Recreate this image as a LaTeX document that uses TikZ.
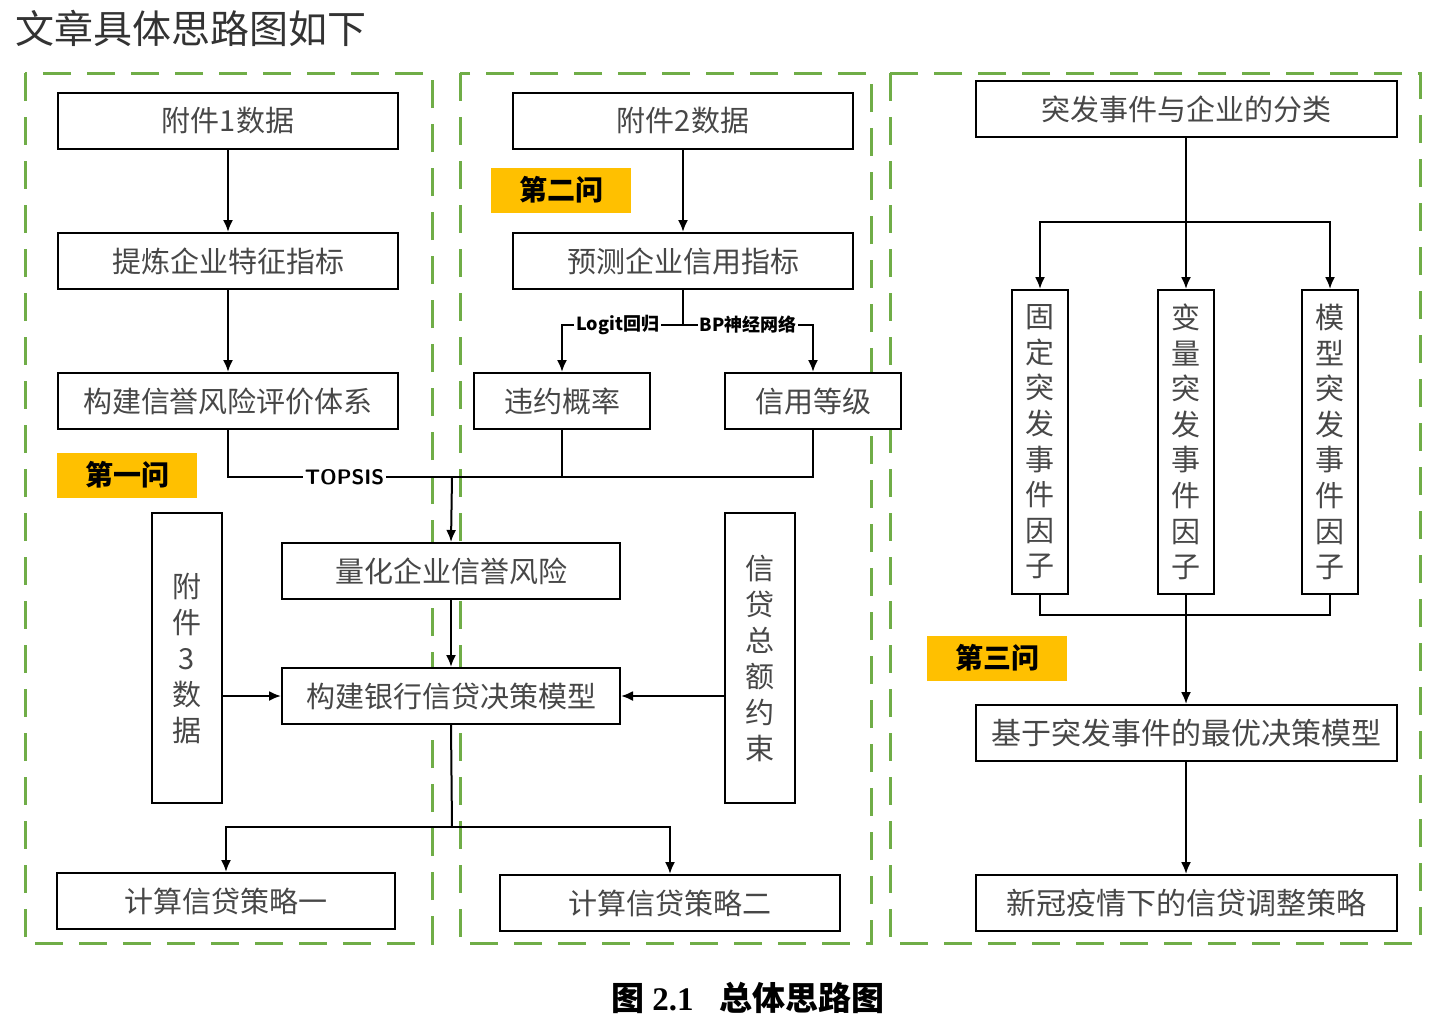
\documentclass[tikz,border=0pt]{standalone}
\usepackage{fontspec}
\setmainfont{Liberation Serif}
\newfontfamily\cjk{Noto Sans CJK SC}
\usepackage{xcolor}
\usetikzlibrary{arrows.meta,positioning,calc}

\definecolor{framegreen}{RGB}{112,173,71}
\definecolor{tagorange}{RGB}{255,192,0}

\begin{document}
\begin{tikzpicture}[
  x=0.5pt, y=-0.5pt,
  box/.style    = {draw, fill=white, line width=1pt, minimum width=170pt,
                   minimum height=28pt, inner sep=0pt, text=black!72,
                   font=\cjk\fontsize{14.5}{18}\selectfont},
  vbox/.style   = {box, minimum width=35pt, minimum height=145pt,
                   align=center},
  fbox/.style   = {vbox, minimum width=28pt, minimum height=152pt,
                   font=\cjk\fontsize{14.5}{17.8}\selectfont},
  tag/.style    = {fill=tagorange, minimum width=70pt, minimum height=22.5pt,
                   inner sep=0pt, font=\cjk\bfseries\fontsize{14}{16}\selectfont},
  frame/.style  = {draw=framegreen, line width=1.5pt,
                   dash pattern=on 14pt off 8pt},
  link/.style   = {line width=1pt},
  arrow/.style  = {-{Latex[length=6pt,width=5pt]}, line width=1pt},
  lbl/.style    = {fill=white, inner sep=1pt,
                   font=\cjk\bfseries\fontsize{9}{10}\selectfont}
]
  \useasboundingbox (0,0) rectangle (1456,1024);

  % Heading and caption
  \node[anchor=west, text=black!80, font=\cjk\fontsize{19.5}{22}\selectfont]
    (heading) at (8,28) {文章具体思路图如下};
  \node[font=\fontsize{16.5}{18}\selectfont\bfseries] (caption) at (748,998)
    {{\cjk 图} 2.1\hspace{0.8em}{\cjk 总体思路图}};

  % Dashed frames
  \draw[frame] (25,73)  rectangle (432,943);
  \draw[frame] (460,73) rectangle (871,943);
  \draw[frame] (890,73) rectangle (1420,943);

  % Part 1
  \node[box] (data1)  at (228,121) {附件1数据};
  \node[box] (refine) at (228,261) {提炼企业特征指标};
  \node[box] (system) at (228,401) {构建信誉风险评价体系};
  \node[tag] (q1)     at (127,475) {第一问};

  % Part 2
  \node[box] (data2)   at (683,121) {附件2数据};
  \node[tag] (q2)      at (561,190) {第二问};
  \node[box] (predict) at (683,261) {预测企业信用指标};
  \node[box, minimum width=88pt] (default) at (562,401) {违约概率};
  \node[box, minimum width=88pt] (grade)   at (813,401) {信用等级};

  % Shared middle block
  \node[vbox] (data3) at (187,658) {附\\件\\3\\数\\据};
  \node[box, minimum width=169pt] (quant) at (451,571) {量化企业信誉风险};
  \node[box, minimum width=169pt] (bank)  at (451,696) {构建银行信贷决策模型};
  \node[vbox] (total) at (760,658) {信\\贷\\总\\额\\约\\束};
  \node[box, minimum width=169pt] (plan1) at (226,901) {计算信贷策略一};
  \node[box] (plan2) at (670,903) {计算信贷策略二};

  % Part 3
  \node[box, minimum width=210.5pt] (classify) at (1186,109) {突发事件与企业的分类};
  \node[fbox] (fixed) at (1040,442) {固\\定\\突\\发\\事\\件\\因\\子};
  \node[fbox] (vary)  at (1186,442) {变\\量\\突\\发\\事\\件\\因\\子};
  \node[fbox] (model) at (1330,442) {模\\型\\突\\发\\事\\件\\因\\子};
  \node[tag] (q3) at (997,658) {第三问};
  \node[box, minimum width=210.5pt, font=\cjk\fontsize{15}{18}\selectfont]
    (optimal) at (1186,733) {基于突发事件的最优决策模型};
  \node[box, minimum width=210.5pt, font=\cjk\fontsize{15}{18}\selectfont]
    (covid) at (1186,903) {新冠疫情下的信贷调整策略};

  % Junction points
  \coordinate (split2) at (683,325);
  \coordinate (topsis) at (452,477);
  \coordinate (split4) at (452,827);
  \coordinate (split3) at (1186,222);
  \coordinate (merge3) at (1186,615);

  % Part 1 chain
  \draw[arrow] (data1) -- (refine);
  \draw[arrow] (refine) -- (system);

  % Part 2 chain
  \draw[arrow] (data2) -- (predict);
  \draw[link] (predict) -- (split2);
  \draw[arrow] (split2) -| node[lbl, pos=0.27]{Logit回归} (default.north);
  \draw[arrow] (split2) -| node[lbl, pos=0.25]{BP神经网络} (grade.north);

  % TOPSIS merge
  \draw[link] (system.south) |- node[lbl, pos=0.76, font=\bfseries\sffamily\fontsize{10.5}{12}\selectfont]{TOPSIS} (topsis) -| (grade.south);
  \draw[link] (default.south) -- (default.south |- topsis);
  \draw[arrow] (topsis) -- (quant.north);
  \draw[arrow] (quant) -- (bank);
  \draw[arrow] (data3.east |- bank) -- (bank.west);
  \draw[arrow] (total.west |- bank) -- (bank.east);
  \draw[link] (bank.south) -- (split4);
  \draw[arrow] (split4) -| (plan1.north);
  \draw[arrow] (split4) -| (plan2.north);

  % Part 3 chain
  \draw[link] (classify) -- (split3);
  \draw[arrow] (split3) -| (fixed.north);
  \draw[arrow] (split3) -- (vary.north);
  \draw[arrow] (split3) -| (model.north);
  \draw[link] (fixed.south) |- (merge3);
  \draw[link] (model.south) |- (merge3);
  \draw[arrow] (vary.south) -- (optimal.north);
  \draw[arrow] (optimal) -- (covid);
\end{tikzpicture}
\end{document}
